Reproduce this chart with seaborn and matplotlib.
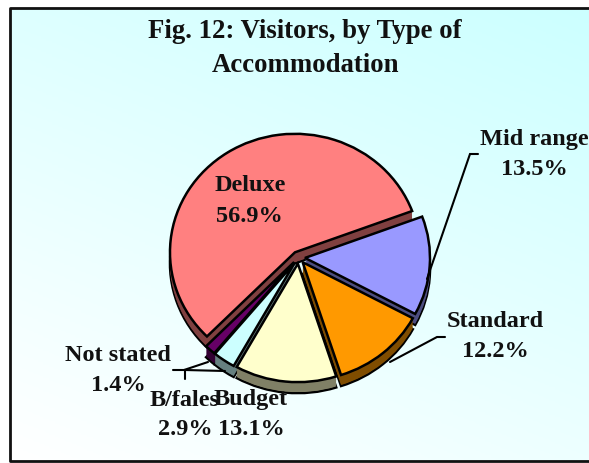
import numpy as np
import matplotlib
matplotlib.use("Agg")
import matplotlib.pyplot as plt
from matplotlib.colors import LinearSegmentedColormap
import seaborn as sns

categories = ["Deluxe", "Not stated", "B/fales", "Budget", "Standard", "Mid range"]
values = [56.9, 1.4, 2.9, 13.1, 12.2, 13.5]
palette = ["#FF8080", "#660066", "#CCFFFF", "#FFFFCC", "#FF9900", "#9999FF"]
title_lines = ["Fig. 12: Visitors, by Type of", "Accommodation"]

sns.set_theme(style="white")
plt.rcParams["font.family"] = ["Liberation Serif", "DejaVu Serif"]

W, H = 589, 464
cx, cy, rx, ry, depth = 298.5, 258.5, 125, 118.5, 11
fig = plt.figure(figsize=(W / 100, H / 100), dpi=100, facecolor="white")

# background with frame
bg = fig.add_axes([0, 0, 1, 1], zorder=0)
bg.set_xlim(0, W); bg.set_ylim(H, 0); bg.axis("off")
yy, xx = np.mgrid[0:1:200j, 0:1:200j]
grad = 0.65 * (1 - yy) + 0.35 * xx
cmap = LinearSegmentedColormap.from_list("g", ["#FFFFFF", "#CCFFFF"])
bg.imshow(grad, extent=(10, W + 2, 462, 9), cmap=cmap, vmin=0, vmax=1, aspect="auto")
bg.plot([W + 3, 10, 10, W + 3], [9, 9, 462, 462], color="#111111", lw=2.0, clip_on=False)
bg.set_xlim(0, W); bg.set_ylim(H, 0)

# pie
ax = fig.add_axes([0, 0, 1, 1], zorder=1)
ax.patch.set_alpha(0)
colors = sns.color_palette(palette)
dark = [tuple(c * 0.5 for c in col) for col in colors]
explode = [0.052] * len(values)
start = 20.4
steps = np.arange(depth, 0, -1)
for d in steps:
    edge = {"edgecolor": "black", "linewidth": 1.8} if d == depth else {"edgecolor": "none", "linewidth": 0}
    ax.pie(values, explode=explode, colors=dark, startangle=start, counterclock=True,
           center=(0, -d / ry), wedgeprops=edge)
ax.pie(values, explode=explode, colors=colors, startangle=start, counterclock=True,
       center=(0, 0), wedgeprops={"edgecolor": "black", "linewidth": 1.8})
ax.set_aspect("auto")
ax.set_xlim(-cx / rx, (W - cx) / rx)
ax.set_ylim(-(H - cy) / ry, cy / ry)
ax.axis("off")

# overlay: text and leaders
ov = fig.add_axes([0, 0, 1, 1], zorder=2)
ov.patch.set_alpha(0)
ov.set_xlim(0, W); ov.set_ylim(H, 0); ov.axis("off")
leaders = [
    ([478, 470, 427], [155, 155, 280]),
    ([445, 437, 390], [338, 338, 363]),
    ([173, 184, 208], [371, 371, 363]),
    ([185, 185, 225], [380, 371, 372]),
]
for lx, ly in leaders:
    ov.plot(lx, ly, color="black", lw=1.5, solid_joinstyle="miter")

tkw = dict(ha="center", va="center", fontweight="bold", color="#111111")
fs = 17.5
ov.text(305, 32, title_lines[0], fontsize=19.3, **tkw)
ov.text(306, 65, title_lines[1], fontsize=19.3, **tkw)
label_pos = [(250, 186), (118, 356), (185, 401), (251, 400), (495, 322), (534, 140)]
pct_pos = [(249, 217), (118, 386), (185, 430), (251, 430), (495, 352), (534, 170)]
for name, val, p, q in zip(categories, values, label_pos, pct_pos):
    ov.text(p[0], p[1], name, fontsize=fs, **tkw)
    ov.text(q[0], q[1], f"{val:.1f}%", fontsize=fs, **tkw)

fig.savefig("out.png", dpi=100)
